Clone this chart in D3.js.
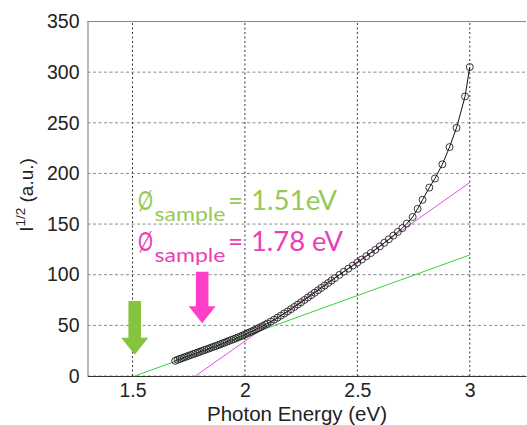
<!DOCTYPE html>
<html><head><meta charset="utf-8">
<script src="https://cdn.jsdelivr.net/npm/d3@7"></script>
<style>body{margin:0;background:#fff}svg{display:block}</style>
</head><body><svg id="c" width="527" height="425"></svg>
<script>
// ---- data ----
const energy = [1.69,1.70,1.71,1.72,1.73,1.74,1.75,1.76,1.77,1.78,1.79,1.80,1.81,1.82,1.83,1.84,1.85,1.86,1.87,1.88,1.89,1.90,1.91,1.92,1.93,1.94,1.95,1.96,1.97,1.98,1.99,2.00,2.01,2.02,2.03,2.04,2.05,2.06,2.07,2.08,2.09,2.10,2.115,2.13,2.145,2.16,2.175,2.19,2.205,2.22,2.235,2.25,2.265,2.28,2.295,2.31,2.325,2.34,2.355,2.37,2.385,2.40,2.42,2.44,2.46,2.48,2.50,2.52,2.54,2.56,2.58,2.60,2.62,2.64,2.66,2.68,2.70,2.72,2.746,2.768,2.79,2.82,2.845,2.878,2.91,2.941,2.979,3.00];
const sqrtI = [15,16,16.8,17.6,18.4,19.2,20,20.8,21.6,22.4,23.2,24,24.8,25.6,26.4,27.2,28,28.8,29.6,30.4,31.2,32.2,33,33.9,34.7,35.6,36.4,37.3,38.2,39.1,40,41,42,43,44,45,46.1,47.2,48.3,49.4,50.6,51.8,53.7,55.6,57.6,59.6,61.7,63.8,66,68.2,70.5,72.8,75.1,77.5,79.8,82.2,84.6,87,89.4,91.8,94.2,96.6,99.8,103,106,109,112,115,118.2,121.4,124.6,128,131.5,135,138.6,142.3,146,150.5,157,165,174,186,195,209,226,245,276,305];
const xTicks = [1.5, 2, 2.5, 3];
const yTicks = [0, 50, 100, 150, 200, 250, 300, 350];
const greenFitX = [1.51, 3.0];
const greenFitY = [0, 119.5];
const magentaFitX = [1.78, 3.0];
const magentaFitY = [0, 191];
const greenArrow = {x: 1.51, from: 74, to: 21};
const magentaArrow = {x: 1.81, from: 103, to: 52};
const labelGreen = ["Ø", "sample", "=", "1.51eV"];
const labelMagenta = ["Ø", "sample", "=", "1.78 eV"];

// ---- drawing ----
const svg = d3.select("#c");
const x = d3.scaleLinear().domain([1.3, 3.25]).range([87.5, 526]);
const y = d3.scaleLinear().domain([0, 350]).range([376, 21.5]);
const x0 = x.range()[0], x1 = x.range()[1], y0 = y.range()[0], y1 = y.range()[1];

// grid
svg.append("g").selectAll("line").data(yTicks).join("line")
  .attr("x1", x0).attr("x2", x1).attr("y1", d => y(d)).attr("y2", d => y(d))
  .attr("stroke", "#8a8a8a").attr("stroke-width", 1).attr("stroke-dasharray", "3,2.5");
svg.append("g").selectAll("line").data(xTicks).join("line")
  .attr("y1", y0).attr("y2", y1).attr("x1", d => x(d)).attr("x2", d => x(d))
  .attr("stroke", "#333").attr("stroke-width", 1).attr("stroke-dasharray", "2,2.5");

// axes
const yAxis = d3.axisLeft(y).tickValues(yTicks).tickSize(0).tickPadding(8).tickFormat(d3.format("d"));
const gy = svg.append("g").attr("transform", `translate(${x0},0)`).call(yAxis);
gy.select(".domain").attr("stroke", "#777");
gy.selectAll("text").attr("font-family", "Liberation Sans, Arial, sans-serif").attr("font-size", 19.5).attr("fill", "#222");

const xAxis = d3.axisBottom(x).tickValues(xTicks).tickSize(0).tickPadding(7).tickFormat(d => d);
const gx = svg.append("g").attr("transform", `translate(0,${y0})`).call(xAxis);
gx.select(".domain").attr("stroke", "#333");
gx.selectAll("text").attr("font-family", "Liberation Sans, Arial, sans-serif").attr("font-size", 19.5).attr("fill", "#222");
svg.append("line").attr("x1", x0).attr("x2", x1).attr("y1", y1).attr("y2", y1).attr("stroke", "#888");

// axis titles
svg.append("text").attr("x", 297).attr("y", 421)
  .attr("text-anchor", "middle").attr("font-family", "Liberation Sans, Arial, sans-serif")
  .attr("font-size", 20.5).attr("fill", "#222").text("Photon Energy (eV)");
const yl = svg.append("text").attr("transform", "translate(33,195) rotate(-90)")
  .attr("text-anchor", "middle").attr("font-family", "Liberation Sans, Arial, sans-serif")
  .attr("font-size", 19).attr("fill", "#222");
yl.append("tspan").text("I");
yl.append("tspan").attr("font-size", 13.5).attr("dy", -8).text("1/2");
yl.append("tspan").attr("dy", 8).text(" (a.u.)");

// fit lines
const line = d3.line().x(d => x(d[0])).y(d => y(d[1]));
svg.append("path").datum(d3.zip(greenFitX, greenFitY)).attr("d", line)
  .attr("stroke", "#3ccf3c").attr("stroke-width", 1).attr("fill", "none");
svg.append("path").datum(d3.zip(magentaFitX, magentaFitY)).attr("d", line)
  .attr("stroke", "#e04ee0").attr("stroke-width", 1).attr("fill", "none");

// data
const pts = d3.zip(energy, sqrtI);
svg.append("path").datum(pts).attr("d", line)
  .attr("stroke", "#111").attr("stroke-width", 1).attr("fill", "none");
svg.append("g").selectAll("circle").data(pts).join("circle")
  .attr("cx", d => x(d[0])).attr("cy", d => y(d[1])).attr("r", 3.5)
  .attr("fill", "none").attr("stroke", "#222").attr("stroke-width", 0.9);

// arrows
function arrow(a, color) {
  const cx = x(a.x), top = y(a.from), tip = y(a.to);
  const sw = 6.3, hw = 13.5, hl = 17;
  const p = [[cx - sw, top], [cx + sw, top], [cx + sw, tip - hl], [cx + hw, tip - hl], [cx, tip],
             [cx - hw, tip - hl], [cx - sw, tip - hl]];
  svg.append("path").attr("d", "M" + p.map(q => q.join(",")).join("L") + "Z").attr("fill", color);
}
arrow(greenArrow, "#86c440");
arrow(magentaArrow, "#ff3fc9");

// annotations
function label(parts, color, bx, by, valLen) {
  const f = "Lato, 'Open Sans', sans-serif";
  svg.append("text").attr("transform", `translate(${x(bx)},${y(by)}) scale(0.72,1)`)
    .attr("font-family", f).attr("font-size", 26).attr("fill", color).text(parts[0]);
  svg.append("text").attr("x", x(bx) + 16.5).attr("y", y(by) + 11).attr("font-family", f).attr("font-size", 19)
    .attr("textLength", 71).attr("lengthAdjust", "spacingAndGlyphs").attr("fill", color).text(parts[1]);
  svg.append("text").attr("x", x(bx) + 90).attr("y", y(by)).attr("font-family", f).attr("font-size", 26).attr("fill", color).text(parts[2]);
  svg.append("text").attr("x", x(bx) + 113).attr("y", y(by)).attr("font-family", f).attr("font-size", 26)
    .attr("textLength", valLen).attr("lengthAdjust", "spacingAndGlyphs").attr("fill", color).text(parts[3]);
}
label(labelGreen, "#97c957", 1.5245, 164, 86);
label(labelMagenta, "#ea3fb4", 1.5245, 123.5, 92);
</script></body></html>
